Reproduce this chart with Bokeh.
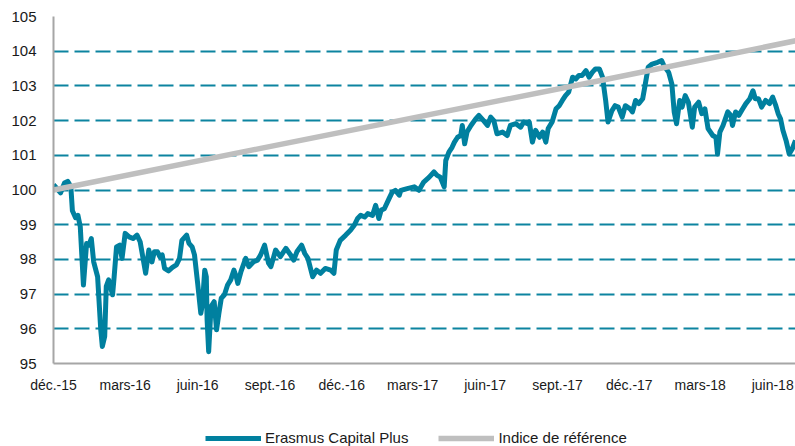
import pandas as pd
from bokeh.plotting import figure
from bokeh.layouts import column
from bokeh.models import FixedTicker, CustomJSTickFormatter, Legend, LegendItem, Range1d
from bokeh.embed import file_html
from bokeh.resources import INLINE

# ---------------- data ----------------
start_date = "2015-12-01"
end_date = "2018-06-30"

series_names = ["Erasmus Capital Plus", "Indice de référence"]

# days since start_date, fund value
fund_days = [0, 4, 9, 14, 18, 22, 24, 28, 31, 34, 38, 42, 45, 48, 51, 56, 60, 62, 65, 67,
             70, 75, 77, 80, 84, 87, 91, 96, 101, 106, 110, 117, 121, 125, 128, 132, 135, 138,
             141, 146, 151, 156, 160, 163, 169, 172, 176, 179, 183, 187, 189, 192, 194, 195,
             197, 200, 204, 207, 210, 213, 217, 221, 225, 229, 232, 234, 238, 244, 248, 254,
             259, 263, 268, 273, 276, 282, 288, 295, 301, 305, 309, 315, 319, 323, 329, 334,
             339, 345, 352, 356, 359, 364, 371, 377, 382, 386, 390, 395, 399, 405, 409, 413,
             416, 420, 426, 430, 434, 439, 441, 449, 458, 464, 470, 477, 483, 487, 491, 496,
             498, 502, 506, 509, 513, 517, 519, 522, 525, 530, 536, 540, 546, 551, 555, 559,
             563, 570, 576, 580, 587, 593, 597, 602, 604, 608, 612, 617, 621, 625, 628, 633,
             638, 642, 646, 650, 654, 659, 663, 667, 671, 676, 680, 684, 688, 693, 697, 701,
             704, 709, 713, 717, 722, 726, 732, 735, 739, 743, 748, 751, 755, 760, 767, 772,
             775, 781, 785, 788, 791, 795, 798, 802, 806, 811, 814, 819, 823, 827, 831, 837,
             841, 843, 846, 850, 856, 860, 862, 866, 870, 875, 879, 884, 888, 891, 895, 899,
             904, 909, 913, 917, 920, 923, 926, 930, 934, 938, 942]
fund_values = [100.15, 100.05, 99.92, 100.2, 100.25, 100.1, 99.4, 99.2, 99.27, 98.94, 97.26,
               98.46, 98.41, 98.6, 97.93, 97.5, 95.97, 95.49, 95.78, 97.22, 97.41, 96.98,
               97.5, 98.36, 98.41, 98.03, 98.75, 98.65, 98.6, 98.7, 98.51, 97.6, 98.27, 97.93,
               98.22, 98.22, 98.08, 98.13, 97.74, 97.67, 97.77, 97.84, 98.03, 98.55, 98.7,
               98.46, 98.36, 98.13, 97.31, 96.45, 96.69, 97.69, 97.5, 96.26, 95.34, 96.64,
               96.78, 95.97, 96.45, 96.88, 96.98, 97.26, 97.41, 97.69, 97.5, 97.31, 97.65,
               98.03, 97.79, 97.93, 97.98, 98.13, 98.41, 97.89, 97.79, 98.27, 98.08, 98.32,
               98.13, 97.98, 98.22, 98.41, 98.17, 98.03, 97.5, 97.69, 97.6, 97.74, 97.69, 97.6,
               98.27, 98.55, 98.7, 98.84, 98.99, 99.18, 99.27, 99.22, 99.32, 99.27, 99.56,
               99.18, 99.42, 99.46, 99.75, 99.94, 99.99, 99.85, 99.99, 100.04, 100.09, 99.99,
               100.23, 100.37, 100.52, 100.42, 100.37, 100.09, 100.85, 101.09, 101.23, 101.38,
               101.52, 101.57, 101.86, 101.33, 101.67, 101.86, 102.05, 102.15, 102.0, 101.86,
               102.1, 102.0, 101.62, 101.67, 101.57, 101.86, 101.91, 101.81, 101.96, 101.91,
               101.96, 101.38, 101.72, 101.52, 101.67, 101.38, 101.77, 101.96, 102.34, 102.43,
               102.58, 102.72, 102.82, 103.25, 103.2, 103.3, 103.3, 103.44, 103.25, 103.39,
               103.49, 103.49, 103.25, 102.58, 101.96, 102.29, 102.43, 102.39, 102.1, 102.43,
               102.34, 102.25, 102.58, 102.49, 102.63, 103.01, 103.54, 103.63, 103.68, 103.73,
               103.58, 103.39, 103.06, 102.25, 101.91, 102.58, 102.39, 102.72, 102.53, 101.81,
               102.39, 102.53, 102.2, 102.34, 101.77, 101.57, 101.52, 101.04, 101.67, 101.86,
               102.25, 102.15, 101.86, 102.25, 102.15, 102.34, 102.49, 102.63, 102.86, 102.63,
               102.63, 102.39, 102.58, 102.49, 102.68, 102.43, 102.2, 102.05, 101.72, 101.43,
               101.04, 101.19, 101.43]

index_days = [0, 263, 693, 942]
index_values = [100.0, 101.2, 103.15, 104.3]

tick_dates = ["2015-12-01", "2016-03-01", "2016-06-01", "2016-09-01", "2016-12-01",
              "2017-03-01", "2017-06-01", "2017-09-01", "2017-12-01", "2018-03-01",
              "2018-06-01"]
month_labels = ["janv.", "févr.", "mars", "avr.", "mai", "juin", "juil.", "août",
                "sept.", "oct.", "nov.", "déc."]
y_ticks = [95, 96, 97, 98, 99, 100, 101, 102, 103, 104, 105]

# ---------------- build ----------------
t0 = pd.Timestamp(start_date)
fund_x = t0 + pd.to_timedelta(fund_days, unit="D")
index_x = t0 + pd.to_timedelta(index_days, unit="D")
tick_ms = [pd.Timestamp(d).value / 1e6 for d in tick_dates]

FONT = "Liberation Sans"
TEAL = "#00809F"
GREY = "#BFBFBF"
TEAL_W = 5
GREY_W = 5.5

p = figure(width=795, height=424, x_axis_type="datetime",
           x_range=Range1d(t0, pd.Timestamp(end_date)), y_range=Range1d(95, 105),
           output_backend="svg", toolbar_location=None,
           min_border_left=53, min_border_right=0, min_border_top=16, min_border_bottom=61)
p.outline_line_color = None
p.background_fill_color = "white"

p.line(fund_x, fund_values, line_color=TEAL, line_width=TEAL_W, line_join="round")
p.line(index_x, index_values, line_color=GREY, line_width=GREY_W, line_join="round")

p.xgrid.visible = False
p.ygrid.ticker = FixedTicker(ticks=y_ticks)
p.ygrid.grid_line_color = "#0C84A0"
p.ygrid.grid_line_width = 2
p.ygrid.grid_line_dash = "15 6"

p.yaxis.ticker = FixedTicker(ticks=y_ticks)
p.xaxis.ticker = FixedTicker(ticks=tick_ms)
p.xaxis.formatter = CustomJSTickFormatter(args=dict(months=month_labels), code="""
    const d = new Date(tick);
    const y = d.getUTCFullYear() % 100;
    return months[d.getUTCMonth()] + '-' + String(y).padStart(2, '0');
""")

for ax in (p.xaxis[0], p.yaxis[0]):
    ax.axis_line_color = "#A6A6A6"
    ax.axis_line_width = 2
    ax.major_tick_line_color = None
    ax.minor_tick_line_color = None
    ax.major_label_text_font = FONT
    ax.major_label_text_font_size = "14px"
    ax.major_label_text_color = "#1A1A1A"
p.yaxis.major_label_text_font_size = "15px"
p.yaxis.major_label_standoff = 11
p.xaxis.major_label_standoff = 7

# ---------------- legend strip (frame aligned with the chart's frame) ----------------
lf = figure(width=795, height=22, x_range=Range1d(0, 1), y_range=Range1d(0, 1),
            output_backend="svg", toolbar_location=None,
            x_axis_location=None, y_axis_location=None,
            min_border_left=0, min_border_right=0, min_border_top=0, min_border_bottom=0)
lf.outline_line_color = None
lf.xgrid.visible = False
lf.ygrid.visible = False
lr1 = lf.line(fund_days, fund_values, line_color=TEAL, line_width=TEAL_W, visible=False)
lr2 = lf.line(index_days, index_values, line_color=GREY, line_width=GREY_W, visible=False)

legend = Legend(items=[LegendItem(label=series_names[0], renderers=[lr1]),
                       LegendItem(label=series_names[1], renderers=[lr2])],
                orientation="horizontal", location=(152, 0),
                label_text_font=FONT, label_text_font_size="15px",
                label_text_color="#1A1A1A", glyph_width=56, glyph_height=16,
                label_height=16, label_standoff=4, spacing=30, padding=0, margin=0,
                border_line_color=None, background_fill_alpha=0)
lf.add_layout(legend)

open("out.html", "w").write(file_html(column(p, lf, spacing=0), INLINE))
